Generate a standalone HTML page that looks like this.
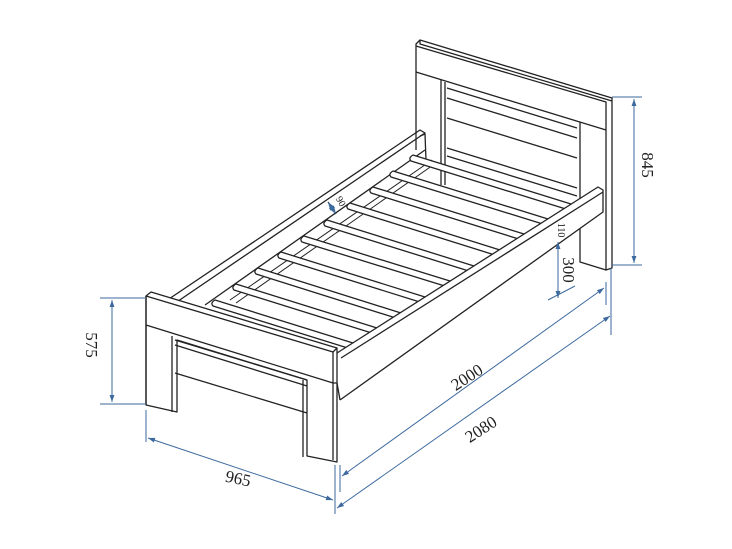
<!DOCTYPE html>
<html><head><meta charset="utf-8"><style>
html,body{margin:0;padding:0;background:#fff;}
svg{display:block}
text{font-family:"Liberation Serif",serif;fill:#222;}
</style></head><body>
<svg width="732" height="549" viewBox="0 0 732 549" xmlns="http://www.w3.org/2000/svg">
<defs>
<marker id="a" viewBox="0 0 10 10" refX="10" refY="5" markerWidth="7" markerHeight="7" orient="auto-start-reverse"><path d="M0,1.5 L10,5 L0,8.5 z" fill="#3d6a9e"/></marker>
</defs>
<g fill="none" stroke="#222" stroke-width="1.3" stroke-linejoin="round">
<!-- headboard -->
<path d="M416,44 L420,40 L612,98 L612,268 L606,270 L606,102 L416,46 Z" fill="#fff"/>
<path d="M416,46 L416,150"/>
<path d="M416,72 L606,130"/>
<path d="M420,40 L420,44 L612,101"/>
<path d="M441,80 L441,185 M445,82 L445,185"/>
<path d="M580,122 L580,262 L606,270"/>
<path d="M447,88 L577,128 M447,98 L577,138"/>
<path d="M447,118 L577,158 M447,148 L577,188 M447,156 L577,196"/>
<!-- far rail -->
<path d="M160,305 L420,130 L425,133 L165,310"/>
<path d="M205,305 L425,150"/>
<path d="M420,136 L425,134 L426,160 L420,163"/>
<!-- battens -->
<path d="M230,300 L432,160 M236,303 L436,163" stroke-width="1"/>
<path d="M355,352 L560,212 M360,355 L565,215" stroke-width="1"/>
<!-- slats -->
<g fill="#fff">
<path d="M413,155 L571,204 L569,210 L411,161 Q408,158 413,155Z"/>
<path d="M393,171 L548,219 L546,225 L391,177 Q388,174 393,171Z"/>
<path d="M373,187 L524,234 L522,240 L371,193 Q368,190 373,187Z"/>
<path d="M350,203 L500,250 L498,256 L348,209 Q345,206 350,203Z"/>
<path d="M327,220 L474,266 L472,272 L325,226 Q322,223 327,220Z"/>
<path d="M304,236 L450,281 L448,287 L302,242 Q299,239 304,236Z"/>
<path d="M281,252 L425,297 L423,303 L279,258 Q276,255 281,252Z"/>
<path d="M258,268 L401,313 L399,319 L256,274 Q253,271 258,268Z"/>
<path d="M236,284 L377,328 L375,334 L234,290 Q231,287 236,284Z"/>
<path d="M215,300 L353,343 L351,349 L213,306 Q210,303 215,300Z"/>
</g>
<!-- near rail -->
<path d="M337,353 L598,187 L603,190 L603,212 L340,400" fill="#fff"/>
<path d="M341,358 L603,192"/>
<path d="M337,383 L340,400"/>
<!-- footboard -->
<path d="M146,296 L151,292 L337,348 L337,462 L307,456 L307,380 L177,340 L177,412 L146,405 Z" fill="#fff"/>
<path d="M146,296 L333,352 L337,348"/>
<path d="M146,325 L333,383 L337,383"/>
<path d="M333,352 L333,460"/>
<path d="M146,296 L146,405"/>
<path d="M175,340 L307,380 M175,345 L307,386 M175,373 L307,413"/>
<path d="M172,336 L172,412"/>
<path d="M303,380 L303,457"/>
</g>
<!-- dimensions -->
<g stroke="#3d6a9e" stroke-width="1" fill="none">
<path d="M612,97 L642,97 M612,265 L642,265"/>
<path d="M634,99 L634,263" marker-start="url(#a)" marker-end="url(#a)"/>
<path d="M100,298 L146,298 M100,404 L146,404"/>
<path d="M112,300 L112,402" marker-start="url(#a)" marker-end="url(#a)"/>
<path d="M548,300 L575,286"/>
<path d="M558,242 L558,298" marker-start="url(#a)" marker-end="url(#a)"/>
<path d="M146,410 L146,442 M335,465 L335,514 M340,465 L340,492 M606,282 L606,305 M611,268 L611,335"/>
<path d="M148,438 L333,500" marker-start="url(#a)" marker-end="url(#a)"/>
<path d="M342,476 L604,288" marker-start="url(#a)" marker-end="url(#a)"/>
<path d="M337,508 L610,316" marker-start="url(#a)" marker-end="url(#a)"/>
</g>
<path d="M328,202 L336,214" stroke="#222" stroke-width="1.2" marker-start="url(#a)" marker-end="url(#a)"/>
<text x="0" y="0" font-size="17" transform="translate(642,165) rotate(90)" text-anchor="middle">845</text>
<text x="0" y="0" font-size="17" transform="translate(86,345) rotate(90)" text-anchor="middle">575</text>
<text x="0" y="0" font-size="17" transform="translate(563,270) rotate(90)" text-anchor="middle">300</text>
<text x="0" y="0" font-size="10" transform="translate(558,230) rotate(90)" text-anchor="middle">110</text>
<text x="0" y="0" font-size="10" transform="translate(338,203) rotate(60)" text-anchor="middle">90</text>
<text x="0" y="0" font-size="17" transform="translate(237,484) rotate(12)" text-anchor="middle">965</text>
<text x="0" y="0" font-size="17" transform="translate(470,382) rotate(-33)" text-anchor="middle">2000</text>
<text x="0" y="0" font-size="17" transform="translate(484,434) rotate(-33)" text-anchor="middle">2080</text>
</svg>
</body></html>
